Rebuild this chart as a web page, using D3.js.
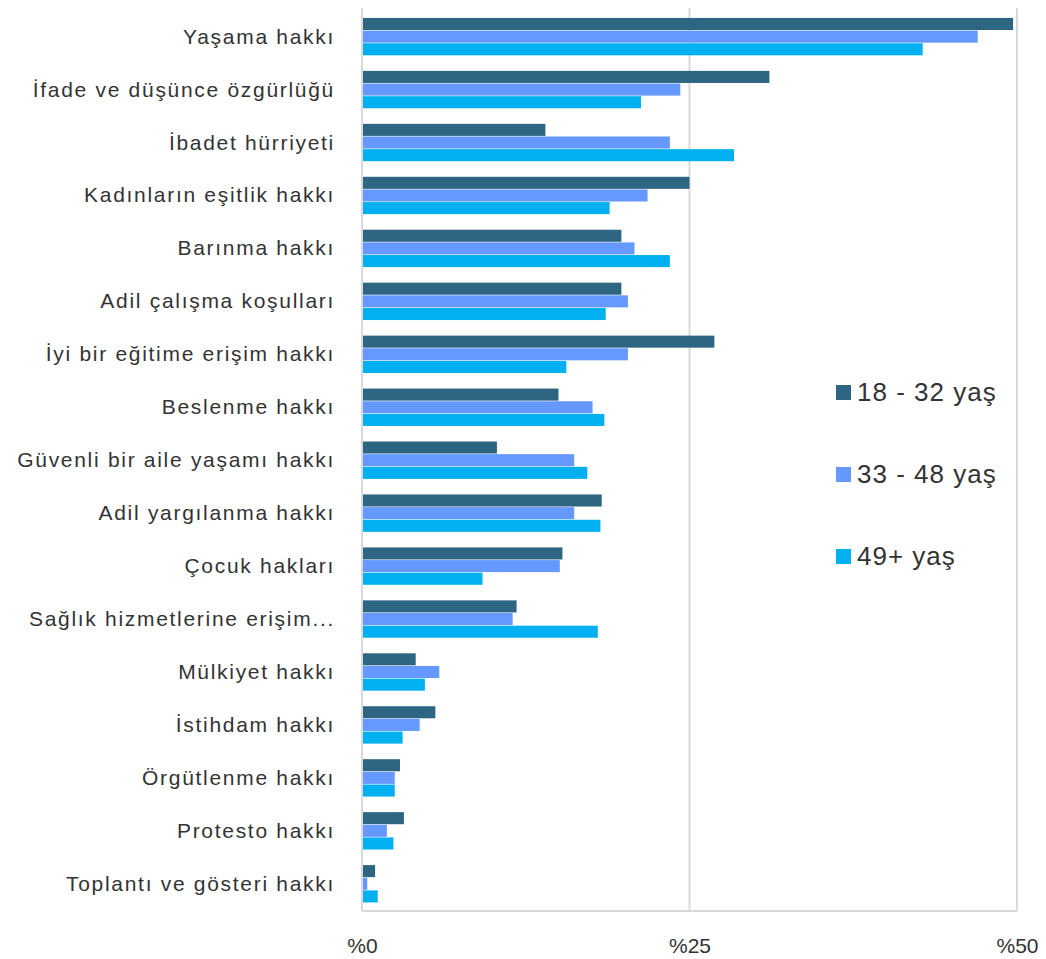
<!DOCTYPE html>
<html>
<head>
<meta charset="utf-8">
<script src="https://cdn.jsdelivr.net/npm/d3@7"></script>
<style>
  body { margin: 0; background: #fff; }
  svg text { font-family: "Liberation Sans", Arial, sans-serif; fill: #333; }
</style>
</head>
<body>
<svg id="chart" width="1046" height="959"></svg>
<script>
var categories = [
    "Yaşama hakkı",
    "İfade ve düşünce özgürlüğü",
    "İbadet hürriyeti",
    "Kadınların eşitlik hakkı",
    "Barınma hakkı",
    "Adil çalışma koşulları",
    "İyi bir eğitime erişim hakkı",
    "Beslenme hakkı",
    "Güvenli bir aile yaşamı hakkı",
    "Adil yargılanma hakkı",
    "Çocuk hakları",
    "Sağlık hizmetlerine erişim...",
    "Mülkiyet hakkı",
    "İstihdam hakkı",
    "Örgütlenme hakkı",
    "Protesto hakkı",
    "Toplantı ve gösteri hakkı"
];
var seriesNames = ["18 - 32 yaş", "33 - 48 yaş", "49+ yaş"];
var age18to32 = [49.7, 31.1, 14.0, 25.0, 19.8, 19.8, 26.9, 15.0, 10.3, 18.3, 15.3, 11.8, 4.1, 5.6, 2.9, 3.2, 1.0];
var age33to48 = [47.0, 24.3, 23.5, 21.8, 20.8, 20.3, 20.3, 17.6, 16.2, 16.2, 15.1, 11.5, 5.9, 4.4, 2.5, 1.9, 0.4];
var age49plus = [42.8, 21.3, 28.4, 18.9, 23.5, 18.6, 15.6, 18.5, 17.2, 18.2, 9.2, 18.0, 4.8, 3.1, 2.5, 2.4, 1.2];
var xTicks = [0, 25, 50];
var colors = ["#2E6583", "#6699FF", "#00B0F0"];

var seriesValues = [age18to32, age33to48, age49plus];

var svg = d3.select("#chart");
var margin = {left: 362, top: 8, right: 29, bottom: 48};
var width = 1046 - margin.left - margin.right,
    height = 959 - margin.top - margin.bottom;

var g = svg.append("g").attr("transform", "translate(" + margin.left + "," + margin.top + ")");

var x = d3.scaleLinear().domain([0, 50]).range([0, width]);
var y = d3.scaleBand().domain(categories).range([2, height]).paddingInner(0.283).paddingOuter(0.15);
var ySub = d3.scaleBand().domain(d3.range(3)).range([0, y.bandwidth()]);

// gridlines
g.selectAll(".grid")
    .data(xTicks.slice(1))
    .enter()
    .append("line")
    .attr("x1", function (d) { return x(d); })
    .attr("x2", function (d) { return x(d); })
    .attr("y1", 0)
    .attr("y2", height)
    .style("stroke", "#d9d9d9")
    .style("stroke-width", 2);

// bars
var groups = g.selectAll(".group")
    .data(categories)
    .enter()
    .append("g")
    .attr("transform", function (d) { return "translate(0," + y(d) + ")"; });

groups.selectAll("rect")
    .data(function (d, i) {
        return seriesValues.map(function (s, k) { return {k: k, v: s[i]}; });
    })
    .enter()
    .append("rect")
    .attr("x", 0)
    .attr("y", function (d) { return ySub(d.k); })
    .attr("width", function (d) { return x(d.v); })
    .attr("height", ySub.bandwidth() - 0.6)
    .style("fill", function (d) { return colors[d.k]; });

// axes lines
g.append("line")
    .attr("x1", 0).attr("x2", 0)
    .attr("y1", 0).attr("y2", height)
    .style("stroke", "#d9d9d9").style("stroke-width", 2);
g.append("line")
    .attr("x1", 0).attr("x2", width)
    .attr("y1", height).attr("y2", height)
    .style("stroke", "#d9d9d9").style("stroke-width", 2);

// category labels
var yAxis = g.append("g")
    .call(d3.axisLeft(y).tickSize(0).tickPadding(27));
yAxis.select(".domain").remove();
yAxis.selectAll("text")
    .style("font-size", "21px")
    .style("letter-spacing", "1.7px")
    .style("fill", "#333")
    .style("font-family", "\"Liberation Sans\", Arial, sans-serif");

// x tick labels
var xAxis = g.append("g")
    .attr("transform", "translate(0," + height + ")")
    .call(d3.axisBottom(x).tickValues(xTicks).tickSize(0).tickPadding(27)
        .tickFormat(function (d) { return "%" + d; }));
xAxis.select(".domain").remove();
xAxis.selectAll("text")
    .style("font-size", "21px")
    .style("fill", "#333")
    .style("font-family", "\"Liberation Sans\", Arial, sans-serif");

// legend
var legend = svg.append("g").attr("transform", "translate(836,392)");
var items = legend.selectAll(".item")
    .data(seriesNames)
    .enter()
    .append("g")
    .attr("transform", function (d, i) { return "translate(0," + i * 82 + ")"; });
items.append("rect")
    .attr("x", 0).attr("y", -7)
    .attr("width", 15).attr("height", 15)
    .style("fill", function (d, i) { return colors[i]; });
items.append("text")
    .attr("x", 21).attr("y", 0)
    .attr("dy", "0.35em")
    .style("font-size", "26px")
    .style("letter-spacing", "1px")
    .text(function (d) { return d; });
</script>
</body>
</html>
